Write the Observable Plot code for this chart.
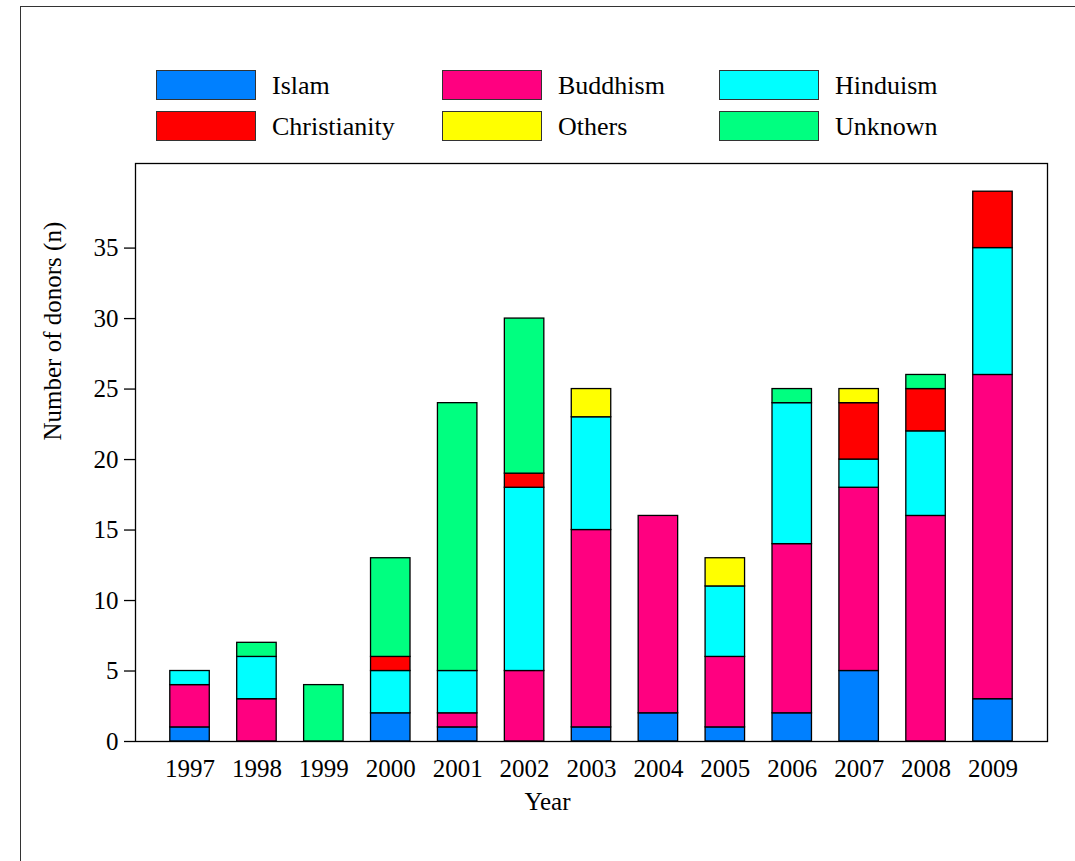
<!DOCTYPE html>
<html>
<head>
<meta charset="utf-8">
<script src="https://cdn.jsdelivr.net/npm/d3@7"></script>
<script src="https://cdn.jsdelivr.net/npm/@observablehq/plot@0.6"></script>
<style>
  html, body { margin: 0; padding: 0; background: #fff; }
  #wrap { position: relative; width: 1075px; height: 861px; overflow: hidden; font-family: "Liberation Serif", "DejaVu Serif", serif; }
  #border { position: absolute; left: 20px; top: 6px; width: 1100px; height: 900px; border: 1.5px solid #333; box-sizing: border-box; }
  #chart { position: absolute; left: 0; top: 0; }
  #legend { position: absolute; left: 0; top: 0; }
  .sw { width: 100px; height: 30px; border: 1.2px solid #333; box-sizing: border-box; }
  .lab { position: absolute; font-size: 26px; color: #000; white-space: nowrap; }
</style>
</head>
<body>
<div id="wrap">
  <div id="border"></div>
  <div id="chart"></div>
  <div id="legend"></div>
</div>
<script>
const years = ["1997","1998","1999","2000","2001","2002","2003","2004","2005","2006","2007","2008","2009"];
const religions = ["Islam","Buddhism","Hinduism","Christianity","Others","Unknown"];
const colors = ["#0080ff","#ff0080","#00ffff","#ff0000","#ffff00","#00ff80"];
const islam        = [1,0,0,2,1,0,1,2,1,2,5,0,3];
const buddhism     = [3,3,0,0,1,5,14,14,5,12,13,16,23];
const hinduism     = [1,3,0,3,3,13,8,0,5,10,2,6,9];
const christianity = [0,0,0,1,0,1,0,0,0,0,4,3,4];
const others       = [0,0,0,0,0,0,2,0,2,0,1,0,0];
const unknown      = [0,1,4,7,19,11,0,0,0,1,0,1,0];
const yTicks = [0,5,10,15,20,25,30,35];

const series = [islam, buddhism, hinduism, christianity, others, unknown];
const rows = [];
years.forEach((y, i) => {
  religions.forEach((r, j) => {
    if (series[j][i] > 0) rows.push({year: y, religion: r, n: series[j][i]});
  });
});

const chart = Plot.plot({
  width: 1075,
  height: 861,
  marginTop: 163,
  marginLeft: 135,
  marginRight: 28,
  marginBottom: 120,
  style: {fontFamily: "Liberation Serif, serif", fontSize: "25px", color: "#000", background: "transparent"},
  x: {domain: years, paddingInner: 0.41, paddingOuter: 0.52, round: false, label: null},
  y: {domain: [0, 41], label: null},
  color: {domain: religions, range: colors},
  marks: [
    Plot.barY(rows, {x: "year", y: "n", fill: "religion", stroke: "#000", strokeWidth: 1.3, order: religions}),
    Plot.frame({stroke: "#000", strokeWidth: 1.3}),
    Plot.axisY({ticks: yTicks, tickSize: 11, tickPadding: 6, tickFormat: d => String(d), stroke: "#000", strokeWidth: 1.3, label: null}),
    Plot.axisX({tickSize: 0, tickPadding: 18, label: null}),
    Plot.text(["Number of donors (n)"], {frameAnchor: "left", dx: -83, dy: -12, rotate: -90, fontSize: 25}),
    Plot.text(["Year"], {frameAnchor: "bottom", dx: -44, dy: 68, fontSize: 25})
  ]
});
document.getElementById("chart").appendChild(chart);

const legend = document.getElementById("legend");
const cols = [156, 442, 719];
const rowsY = [70, 111];
religions.forEach((r, k) => {
  const c = k % 3, rr = Math.floor(k / 3);
  const sw = document.createElement("div");
  sw.className = "sw";
  sw.style.position = "absolute";
  sw.style.left = cols[c] + "px";
  sw.style.top = rowsY[rr] + "px";
  sw.style.background = colors[k];
  legend.appendChild(sw);
  const lab = document.createElement("div");
  lab.className = "lab";
  lab.textContent = r;
  lab.style.left = (cols[c] + 116) + "px";
  lab.style.top = (rowsY[rr] + 16) + "px";
  lab.style.transform = "translateY(-50%)";
  legend.appendChild(lab);
});
</script>
</body>
</html>
